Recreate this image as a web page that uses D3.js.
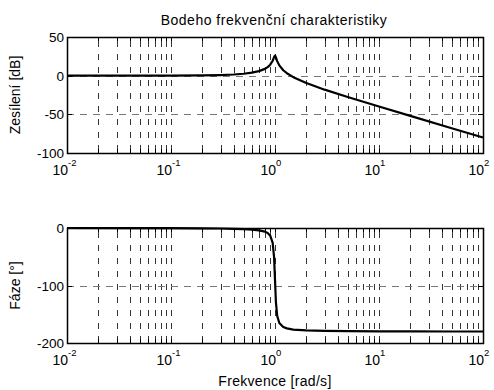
<!DOCTYPE html>
<html>
<head>
<meta charset="utf-8">
<script src="https://cdn.jsdelivr.net/npm/d3@7"></script>
<style>
  body { margin: 0; background: #fff; }
  text { font-family: "Liberation Sans", Arial, sans-serif; fill: #000; }
</style>
</head>
<body>
<div id="chart"></div>
<script>
// values (resonance at 1 rad/s)
const freq = [0.01, 0.05, 0.1, 0.2, 0.3, 0.4, 0.5, 0.6, 0.7, 0.8, 0.85, 0.9, 0.95, 0.98, 1.0,
              1.02, 1.05, 1.1, 1.2, 1.3, 1.5, 2, 3, 5, 10, 20, 50, 100];
const gainDb = [0, 0.02, 0.09, 0.35, 0.82, 1.5, 2.5, 3.9, 5.9, 8.8, 11.0, 14.2, 19.3, 24.0, 26.0,
                23.7, 18.8, 13.3, 7.0, 3.2, -1.9, -9.5, -18.1, -27.6, -39.9, -52.0, -68.0, -80.0];
const phaseDeg = [0, -0.1, -0.3, -0.6, -0.9, -1.4, -1.9, -2.7, -4.2, -6.3, -8.7, -13.3, -26.0, -51.0, -90,
                  -128.4, -152.9, -165.3, -172.2, -174.6, -176.6, -178.1, -178.9, -179.4, -179.7, -179.9, -180, -180];
const gainTicks = [50, 0, -50, -100];
const phaseTicks = [0, -100, -200];
const decades = [-2, -1, 0, 1, 2];

const width = 494, height = 390;
const left = 67, right = 483;

const svg = d3.select("#chart").append("svg")
  .attr("width", width).attr("height", height);

const x = d3.scaleLog().domain([0.01, 100]).range([left, right]);

// all grid positions: decades and 2..9 in between
const gridVals = [];
for (let e = -2; e < 2; e++) {
  for (let m = 1; m < 10; m++) gridVals.push(m * Math.pow(10, e));
}
gridVals.push(100);

function panel(top, bottom, domain, ticks, values, label) {
  const y = d3.scaleLinear().domain(domain).range([bottom, top]);
  const g = svg.append("g");

  // vertical grid (dashed)
  g.selectAll(".vg").data(gridVals.filter(v => v > 0.01 && v < 100)).enter()
    .append("line")
    .attr("x1", d => Math.round(x(d)) + 0.5).attr("x2", d => Math.round(x(d)) + 0.5)
    .attr("y1", top).attr("y2", bottom)
    .attr("stroke", "#000").attr("stroke-width", 0.8)
    .attr("stroke-dasharray", "6,7").attr("stroke-dashoffset", -4);

  // horizontal grid
  g.selectAll(".hg").data(ticks.filter(t => t !== domain[0] && t !== domain[1])).enter()
    .append("line")
    .attr("x1", left).attr("x2", right)
    .attr("y1", d => Math.round(y(d)) + 0.5).attr("y2", d => Math.round(y(d)) + 0.5)
    .attr("stroke", "#777").attr("stroke-width", 1)
    .attr("stroke-dasharray", "7,6");

  // tick marks inside the box
  gridVals.forEach(v => {
    const len = 4;
    const xx = Math.round(x(v)) + 0.5;
    g.append("line").attr("x1", xx).attr("x2", xx).attr("y1", bottom).attr("y2", bottom - len)
      .attr("stroke", "#000");
    g.append("line").attr("x1", xx).attr("x2", xx).attr("y1", top).attr("y2", top + len)
      .attr("stroke", "#000");
  });
  ticks.forEach(t => {
    const yy = Math.round(y(t)) + 0.5;
    g.append("line").attr("x1", left).attr("x2", left + 5).attr("y1", yy).attr("y2", yy).attr("stroke", "#000");
    g.append("line").attr("x1", right).attr("x2", right - 5).attr("y1", yy).attr("y2", yy).attr("stroke", "#000");
  });

  // data line
  const line = d3.line().x(d => x(d[0])).y(d => y(d[1]));
  g.append("path")
    .datum(freq.map((f, i) => [f, values[i]]))
    .attr("d", line)
    .attr("fill", "none").attr("stroke", "#000").attr("stroke-width", 2.2)
    .attr("stroke-linejoin", "round");

  // box
  g.append("rect").attr("x", left + 0.5).attr("y", top + 0.5)
    .attr("width", right - left).attr("height", bottom - top)
    .attr("fill", "none").attr("stroke", "#000").attr("stroke-width", 1.5);

  // y tick labels
  g.selectAll(".yl").data(ticks).enter().append("text")
    .attr("x", left - 3).attr("y", d => y(d) + 5)
    .attr("text-anchor", "end").attr("font-size", 13.5)
    .text(d => d);

  // x tick labels 10^n
  decades.forEach(e => {
    const xx = x(Math.pow(10, e));
    g.append("text").attr("x", xx + 1).attr("y", bottom + 22)
      .attr("text-anchor", "end").attr("font-size", 14).text("10");
    g.append("text").attr("x", xx + 1).attr("y", bottom + 13)
      .attr("text-anchor", "start").attr("font-size", 9.5).text(e);
  });

  // y label
  g.append("text")
    .attr("transform", `translate(20,${(top + bottom) / 2}) rotate(-90)`)
    .attr("text-anchor", "middle").attr("font-size", 14)
    .text(label);
}

panel(37, 153, [-100, 50], gainTicks, gainDb, "Zesílení [dB]");
panel(228, 343, [-200, 0], phaseTicks, phaseDeg, "Fáze [°]");

svg.append("text").attr("x", 274).attr("y", 25)
  .attr("text-anchor", "middle").attr("font-size", 14).attr("letter-spacing", 0.5)
  .text("Bodeho frekvenční charakteristiky");

svg.append("text").attr("x", 275).attr("y", 386)
  .attr("text-anchor", "middle").attr("font-size", 14).attr("letter-spacing", 0.3)
  .text("Frekvence [rad/s]");
</script>
</body>
</html>
